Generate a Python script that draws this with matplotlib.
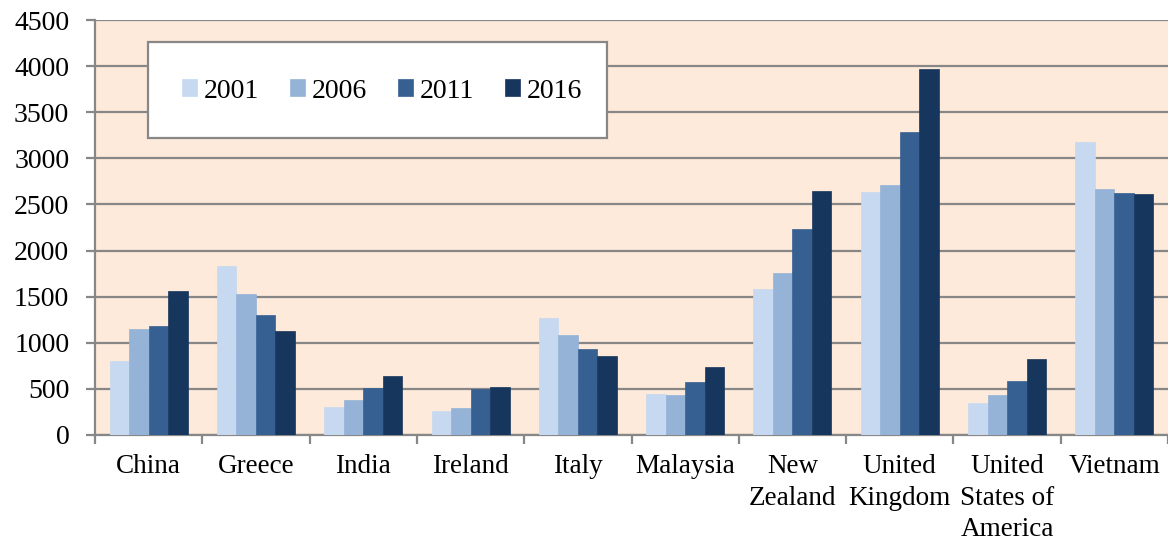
import matplotlib
matplotlib.use("Agg")
import matplotlib.pyplot as plt
from matplotlib.patches import Rectangle
import numpy as np

countries = ["China", "Greece", "India", "Ireland", "Italy", "Malaysia",
             "New\nZealand", "United\nKingdom", "United\nStates of\nAmerica", "Vietnam"]
years = ["2001", "2006", "2011", "2016"]
v2001 = [802, 1832, 307, 264, 1269, 445, 1580, 2635, 347, 3174]
v2006 = [1146, 1529, 383, 296, 1081, 437, 1757, 2711, 430, 2671]
v2011 = [1185, 1298, 513, 499, 933, 575, 2237, 3282, 585, 2627]
v2016 = [1561, 1124, 636, 520, 853, 734, 2642, 3965, 824, 2613]
series = [v2001, v2006, v2011, v2016]
colors = ["#C6D9F0", "#95B3D7", "#366092", "#17365D"]

plt.rcParams['font.family'] = ['Liberation Serif', 'DejaVu Serif']

W, H = 1168, 544
fig = plt.figure(figsize=(W/100, H/100), dpi=100)
ax = fig.add_axes([95/W, 1-435/H, 1-95/W, (435-20)/H])
ax.set_facecolor("#FDEADA")

n = len(countries)
w = 1/5.5
x = np.arange(n) + 0.5
for k, (vals, c, yr) in enumerate(zip(series, colors, years)):
    ax.bar(x + (k-1.5)*w, vals, width=w, color=c, label=yr, zorder=3,
           edgecolor=c, linewidth=0.5)

ax.set_xlim(0, n)
ax.set_ylim(0, 4500)
ax.set_yticks(np.arange(0, 4501, 500))
ax.yaxis.grid(True, color="#878787", linewidth=1.6, zorder=1)
ax.set_axisbelow(True)

for s in ["top", "right"]:
    ax.spines[s].set_visible(False)
for s in ["left", "bottom"]:
    ax.spines[s].set_color("#878787")
    ax.spines[s].set_linewidth(1.6)

ax.tick_params(axis='y', length=6.5, width=1.6, color="#878787", pad=12, labelsize=20)
ax.set_xticks(x)
ax.set_xticklabels(countries, fontsize=19.5, linespacing=1.34, va='top')
ax.tick_params(axis='x', which='major', length=0, pad=14)
ax.set_xticks(np.arange(0, n+1), minor=True)
ax.tick_params(axis='x', which='minor', length=6.5, width=1.6, color="#878787")

# legend box frame
ax.add_patch(Rectangle((148/W, 1-138/H), (607-148)/W, (138-42)/H,
                       transform=fig.transFigure, facecolor="white",
                       edgecolor="#878787", linewidth=1.6, zorder=5, clip_on=False))
leg = ax.legend(ncol=4, loc='center', bbox_to_anchor=(382/W, 1-91/H),
                bbox_transform=fig.transFigure, borderaxespad=0, fontsize=20,
                frameon=False, borderpad=0,
                handlelength=0.55, handleheight=0.55, handletextpad=0.25,
                columnspacing=1.1)
leg.set_zorder(6)

fig.savefig("out.png", dpi=100, facecolor="white")
